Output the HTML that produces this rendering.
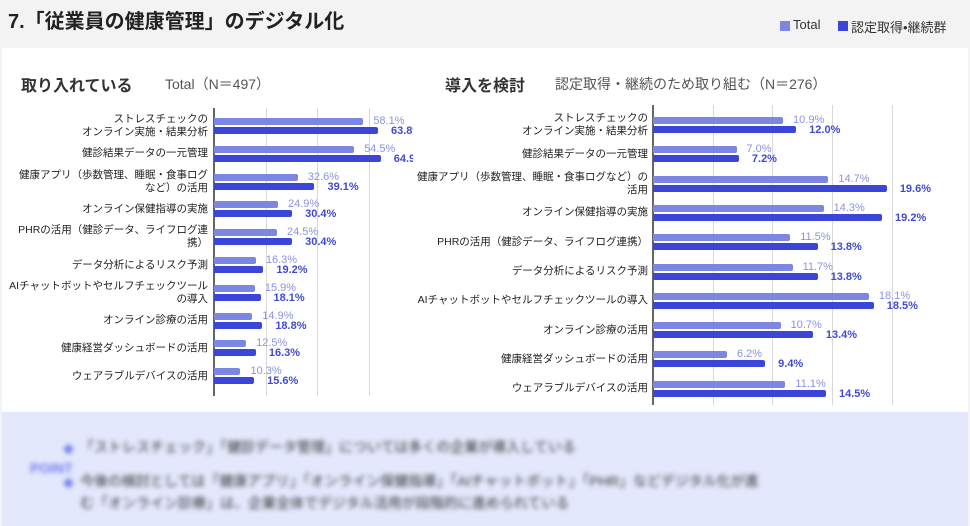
<!DOCTYPE html>
<html><head><meta charset="utf-8"><style>
*{margin:0;padding:0;box-sizing:border-box}
body{width:970px;height:526px;background:#f3f3f3;position:relative;overflow:hidden;font-family:"Liberation Sans","Noto Sans CJK JP",sans-serif;color:#222}
.a{position:absolute;white-space:nowrap}
#panel{position:absolute;left:2px;top:48px;width:966px;height:364px;background:#fff}
#point{position:absolute;left:2px;top:412px;width:966px;height:114px;background:#e4e8fc}
.lbl{position:absolute;font-size:10.5px;line-height:13px;text-align:right;color:#222}
.bar{position:absolute;height:7px;border-radius:0 2px 2px 0}
.l{background:#7b87e2}.d{background:#3b46d8}
.vl{position:absolute;font-size:11px;line-height:11px;color:#8a93e2}
.vd{position:absolute;font-size:11px;line-height:11px;color:#3f4bd0;font-weight:bold}
.g{position:absolute;width:1px;background:#d8d8d8}
.ax{position:absolute;width:2px;background:#666}
.blur{filter:blur(2.5px)}
</style></head><body>
<div class="a" style="left:8px;top:5px;font-size:20px;font-weight:bold;color:#222">7.「従業員の健康管理」のデジタル化</div>
<div class="a" style="left:780px;top:21px;width:10px;height:10px;background:#7b87e2"></div>
<div class="a" style="left:793px;top:17px;font-size:13px;color:#333">Total</div>
<div class="a" style="left:838px;top:21px;width:10px;height:10px;background:#3b46d8"></div>
<div class="a" style="left:851px;top:17px;font-size:13px;color:#333">認定取得•継続群</div>
<div id="panel"></div>
<div class="a" style="left:21px;top:72px;font-size:16px;font-weight:bold;color:#333">取り入れている</div>
<div class="a" style="left:165px;top:74px;font-size:14px;color:#555">Total（N＝497）</div>
<div class="a" style="left:445px;top:72px;font-size:16px;font-weight:bold;color:#333">導入を検討</div>
<div class="a" style="left:555px;top:74px;font-size:14px;color:#555">認定取得・継続のため取り組む（N＝276）</div>
<div id="charts"></div>
<div class="a" style="left:413px;top:112px;width:30px;height:55px;background:#fff"></div>
<div id="point">
<div class="a blur" style="left:28px;top:48px;font-size:14px;font-weight:bold;color:#6f7cf0">POINT</div>
<div class="a blur" style="left:61px;top:29px;font-size:11px;color:#6f7cf0">◆</div>
<div class="a blur" style="left:61px;top:63px;font-size:11px;color:#6f7cf0">◆</div>
<div class="a blur" style="left:78px;top:25px;font-size:14px;color:#333">「ストレスチェック」「健診データ管理」については多くの企業が導入している</div>
<div class="a blur" style="left:78px;top:59px;font-size:14px;color:#333">今後の検討としては「健康アプリ」「オンライン保健指導」「AIチャットボット」「PHR」などデジタル化が進</div>
<div class="a blur" style="left:78px;top:81px;font-size:14px;color:#333">む「オンライン診療」は、企業全体でデジタル活用が段階的に進められている</div>
</div>
<script>
var L=[["ストレスチェックの<br>オンライン実施・結果分析",58.1,63.8],["健診結果データの一元管理",54.5,64.9],["健康アプリ（歩数管理、睡眠・食事ログ<br>など）の活用",32.6,39.1],["オンライン保健指導の実施",24.9,30.4],["PHRの活用（健診データ、ライフログ連<br>携）",24.5,30.4],["データ分析によるリスク予測",16.3,19.2],["AIチャットボットやセルフチェックツール<br>の導入",15.9,18.1],["オンライン診療の活用",14.9,18.8],["健康経営ダッシュボードの活用",12.5,16.3],["ウェアラブルデバイスの活用",10.3,15.6]];
var R=[["ストレスチェックの<br>オンライン実施・結果分析",10.9,12.0],["健診結果データの一元管理",7.0,7.2],["健康アプリ（歩数管理、睡眠・食事ログなど）の<br>活用",14.7,19.6],["オンライン保健指導の実施",14.3,19.2],["PHRの活用（健診データ、ライフログ連携）",11.5,13.8],["データ分析によるリスク予測",11.7,13.8],["AIチャットボットやセルフチェックツールの導入",18.1,18.5],["オンライン診療の活用",10.7,13.4],["健康経営ダッシュボードの活用",6.2,9.4],["ウェアラブルデバイスの活用",11.1,14.5]];
var h="";
function chart(D,ax,sc,grid,top,step,y0,y1,lblR,gap){
 grid.forEach(function(x){h+='<div class="g" style="left:'+x+'px;top:'+y0+'px;height:'+(y1-y0)+'px"></div>'});
 h+='<div class="ax" style="left:'+(ax-1)+'px;top:'+y0+'px;height:'+(y1-y0)+'px"></div>';
 D.forEach(function(d,i){var t=top+i*step;var w1=d[1]*sc,w2=d[2]*sc;var two=d[0].indexOf("<br>")>=0;
  h+='<div class="lbl" style="right:'+(970-lblR)+'px;top:'+(t+8-(two?13:6.5))+'px">'+d[0]+'</div>';
  h+='<div class="bar l" style="left:'+ax+'px;top:'+t+'px;width:'+w1+'px"></div>';
  h+='<div class="bar d" style="left:'+ax+'px;top:'+(t+gap)+'px;width:'+w2+'px"></div>';
  h+='<div class="vl" style="left:'+(ax+w1+10)+'px;top:'+(t-2)+'px">'+d[1].toFixed(1)+'%</div>';
  h+='<div class="vd" style="left:'+(ax+w2+13)+'px;top:'+(t+gap-1)+'px">'+d[2].toFixed(1)+'%</div>';
 });
}
chart(L,214,2.57,[266,317,369],118,27.8,108,396,208,9);
chart(R,653,11.93,[713,772,832,892],117,29.3,105,405,648,9);
document.getElementById("charts").innerHTML=h;
</script>
</body></html>
